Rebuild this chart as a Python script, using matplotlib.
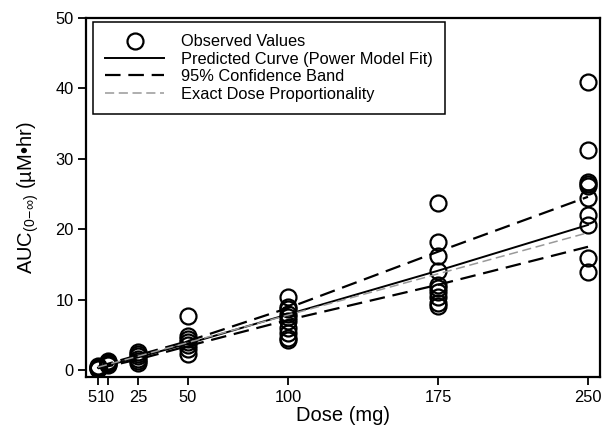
import matplotlib
matplotlib.use("Agg")
import matplotlib.pyplot as plt
from matplotlib.transforms import ScaledTranslation

plt.rcParams["font.family"] = ["Liberation Sans", "DejaVu Sans"]
plt.rcParams["mathtext.fontset"] = "custom"
plt.rcParams["mathtext.rm"] = "Liberation Sans"
plt.rcParams["mathtext.it"] = "Liberation Sans"

# observed AUC values per dose group
dose_5 = [0.2, 0.3, 0.4, 0.5, 0.3]
dose_10 = [0.7, 0.9, 1.1, 1.3, 1.0]
dose_25 = [1.0, 1.3, 1.6, 2.0, 2.3, 2.6]
dose_50 = [2.3, 3.0, 3.5, 4.0, 4.4, 4.8, 7.6]
dose_100 = [4.2, 4.6, 5.2, 6.0, 7.0, 7.5, 8.0, 8.6, 9.0, 10.3]
dose_175 = [9.1, 9.5, 10.4, 11.1, 11.6, 12.1, 14.1, 16.2, 18.2, 23.7]
dose_250 = [13.9, 15.9, 20.6, 22.0, 24.4, 26.1, 26.4, 26.7, 31.3, 40.9]
obs_groups = {5: dose_5, 10: dose_10, 25: dose_25, 50: dose_50,
              100: dose_100, 175: dose_175, 250: dose_250}

# curves
curve_dose = [5, 10, 25, 50, 100, 175, 250]
pred = [0.32, 0.67, 1.78, 3.75, 7.9, 14.1, 20.6]
upper = [0.45, 0.88, 2.1, 4.1, 8.8, 16.8, 24.6]
lower = [0.24, 0.52, 1.5, 3.4, 7.1, 12.1, 17.5]
prop_dose = [5, 250]
prop = [0.39, 19.5]

xticks = [5, 10, 25, 50, 100, 175, 250]

fig = plt.figure(figsize=(6.06, 4.30), dpi=100)
ax = fig.add_axes([86 / 606, 1 - 377 / 430, 514 / 606, 359 / 430])

xs, ys = [], []
for d, vals in obs_groups.items():
    xs += [d] * len(vals)
    ys += vals
ax.plot(xs, ys, "o", ls="none", mfc="none", mec="black", ms=11.5, mew=1.6,
        label="Observed Values")
ax.plot(curve_dose, pred, color="black", lw=1.4, label="Predicted Curve (Power Model Fit)")
ax.plot(curve_dose, upper, color="black", lw=1.6, dashes=(7, 3.5), label="95% Confidence Band")
ax.plot(curve_dose, lower, color="black", lw=1.6, dashes=(7, 3.5))
ax.plot(prop_dose, prop, color="#999999", lw=1.1, dashes=(6, 3),
        label="Exact Dose Proportionality")

ax.set_xlim(-1, 256)
ax.set_ylim(-1, 50)
ax.set_xticks(xticks)
ax.set_xticklabels([str(t) for t in xticks])
ax.set_yticks(range(0, 51, 10))
ax.tick_params(direction="out", length=6, width=1.3, labelsize=11.8, colors="black", pad=3)
for s in ax.spines.values():
    s.set_linewidth(1.6)

# nudge the crowded 5 and 10 labels left a bit
for lab, dx in zip(ax.get_xticklabels()[:2], [-6.5, -2]):
    lab.set_transform(lab.get_transform() + ScaledTranslation(dx / 100, 0, fig.dpi_scale_trans))

ax.set_xlabel("Dose (mg)", fontsize=14.5, labelpad=1)
ax.set_ylabel(r"AUC$_{(0\!-\!\infty)}$ (µM•hr)", fontsize=14.5, labelpad=10)

leg = ax.legend(loc="upper left", bbox_to_anchor=(93 / 606, 1 - 22 / 430),
                bbox_transform=fig.transFigure, fontsize=11.8, frameon=True,
                fancybox=False, edgecolor="black", framealpha=1,
                handlelength=3.6, handletextpad=1.0, labelspacing=0.15,
                borderpad=0.75, borderaxespad=0)
leg.get_frame().set_linewidth(1.1)

fig.savefig("out.png", dpi=100)
